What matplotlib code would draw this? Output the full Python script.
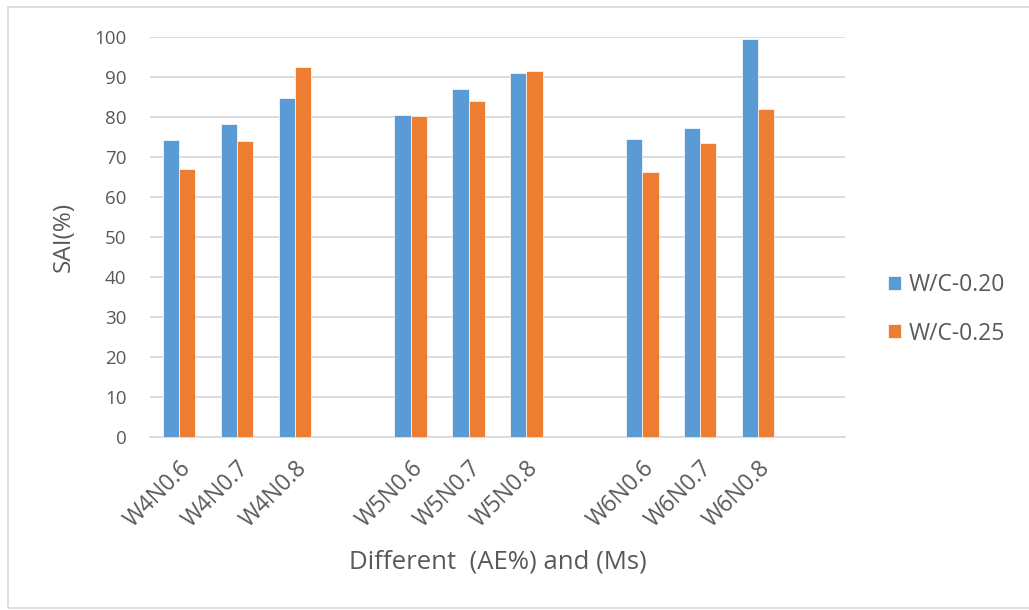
import matplotlib
matplotlib.use("Agg")
import matplotlib.pyplot as plt
from matplotlib.patches import Rectangle
import numpy as np

categories = ["W4N0.6", "W4N0.7", "W4N0.8",
              "W5N0.6", "W5N0.7", "W5N0.8",
              "W6N0.6", "W6N0.7", "W6N0.8"]
wc020 = [74.2, 78.2, 84.6, 80.5, 86.9, 90.9, 74.5, 77.2, 99.3]
wc025 = [66.8, 73.8, 92.3, 80.2, 83.9, 91.3, 66.1, 73.5, 81.9]
series_names = ["W/C-0.20", "W/C-0.25"]
yticks = [0, 10, 20, 30, 40, 50, 60, 70, 80, 90, 100]

plt.rcParams['font.family'] = ['Open Sans', 'DejaVu Sans']
txt = '#595959'
grid = '#d9d9d9'

fig = plt.figure(figsize=(10.29, 6.10), dpi=100)
fig.patch.set_facecolor('white')
# chart-area border
fig.add_artist(Rectangle((8/1029, 2/610), 1.2, 601/610, transform=fig.transFigure,
                         fill=False, edgecolor='#d9d9d9', linewidth=1.2))

ax = fig.add_axes([150/1029, (610-436.7)/610, 695/1029, 400/610])

# 3 per group, one empty slot between groups, one empty slot at the end
pos = np.array([i + i // 3 for i in range(len(categories))], dtype=float)
w = 0.28
ax.bar(pos - w/2, wc020, width=w, color='#5B9BD5', edgecolor='white', linewidth=0.5,
       label=series_names[0], zorder=3)
ax.bar(pos + w/2, wc025, width=w, color='#ED7D31', edgecolor='white', linewidth=0.5,
       label=series_names[1], zorder=3)

ax.set_xlim(-0.5, 11.5)
ax.set_ylim(0, 100)
ax.set_yticks(yticks)
ax.yaxis.grid(True, color=grid, linewidth=1.3, zorder=0)
ax.set_axisbelow(True)
for s in ['top', 'right', 'left']:
    ax.spines[s].set_visible(False)
ax.spines['bottom'].set_color(grid)
ax.spines['bottom'].set_linewidth(1.3)
ax.tick_params(axis='y', length=0, labelsize=13.5, labelcolor=txt, pad=17)
ax.tick_params(axis='x', length=0, labelsize=16.5, labelcolor=txt, pad=14)
ax.set_xticks(pos)
ax.set_xticklabels(categories, rotation=45, ha='right', rotation_mode='anchor')

ax.set_xlabel("Different  (AE%) and (Ms)", fontsize=18.5, color=txt)
ax.xaxis.set_label_coords(0.5, (436.7 - 562) / 400)
ax.xaxis.label.set_va('center')
ax.set_ylabel("SAI(%)", fontsize=17.5, color=txt)
ax.yaxis.set_label_coords((64 - 150) / 695, 0.5)
ax.yaxis.label.set_va('center')

leg = fig.legend(loc='center left', bbox_to_anchor=(888/1029, (610-309.5)/610),
                 frameon=False, fontsize=16.5, labelcolor=txt,
                 handlelength=0.56, handleheight=0.56, handletextpad=0.35,
                 labelspacing=1.05, borderaxespad=0, borderpad=0)

fig.savefig("out.png", dpi=100, facecolor='white')
